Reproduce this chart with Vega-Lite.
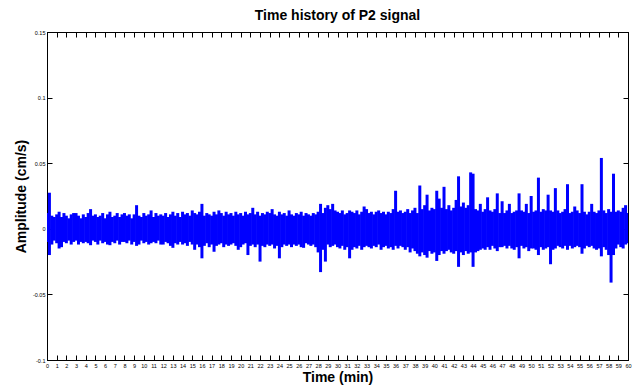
{
  "$schema": "https://vega.github.io/schema/vega-lite/v6.json",
  "autosize": {"type": "none"},
  "width": 581,
  "height": 328,
  "padding": {"left": 47, "top": 32, "right": 6, "bottom": 25},
  "background": "white",
  "config": {
    "font": "Liberation Sans",
    "view": {"stroke": "black", "strokeWidth": 1},
    "axis": {
      "domainColor": "black",
      "tickColor": "black",
      "labelColor": "black",
      "labelFont": "Liberation Sans",
      "titleFont": "Liberation Sans",
      "titleFontSize": 14,
      "titleFontWeight": "bold",
      "titleColor": "black",
      "grid": false
    }
  },
  "title": {"text": "Time history of P2 signal", "fontSize": 14, "fontWeight": "bold", "font": "Liberation Sans", "color": "black", "offset": 7},
  "data": {"values": [
{"t":0,"hi":0.012,"lo":-0.010},{"t":0.25,"hi":0.0275,"lo":-0.020},{"t":0.5,"hi":0.010,"lo":-0.012},{"t":0.75,"hi":0.009,"lo":-0.009},
{"t":1,"hi":0.011,"lo":-0.011},{"t":1.25,"hi":0.013,"lo":-0.015},{"t":1.5,"hi":0.009,"lo":-0.014},{"t":1.75,"hi":0.012,"lo":-0.010},
{"t":2,"hi":0.010,"lo":-0.011},{"t":2.25,"hi":0.008,"lo":-0.009},{"t":2.5,"hi":0.011,"lo":-0.012},{"t":2.75,"hi":0.012,"lo":-0.010},
{"t":3,"hi":0.012,"lo":-0.009},{"t":3.25,"hi":0.010,"lo":-0.012},{"t":3.5,"hi":0.008,"lo":-0.010},{"t":3.75,"hi":0.011,"lo":-0.011},
{"t":4,"hi":0.009,"lo":-0.010},{"t":4.25,"hi":0.012,"lo":-0.011},{"t":4.5,"hi":0.015,"lo":-0.0125},{"t":4.75,"hi":0.010,"lo":-0.009},
{"t":5,"hi":0.011,"lo":-0.010},{"t":5.25,"hi":0.009,"lo":-0.012},{"t":5.5,"hi":0.010,"lo":-0.009},{"t":5.75,"hi":0.012,"lo":-0.011},
{"t":6,"hi":0.008,"lo":-0.010},{"t":6.25,"hi":0.011,"lo":-0.012},{"t":6.5,"hi":0.013,"lo":-0.0125},{"t":6.75,"hi":0.009,"lo":-0.010},
{"t":7,"hi":0.010,"lo":-0.011},{"t":7.25,"hi":0.012,"lo":-0.009},{"t":7.5,"hi":0.009,"lo":-0.012},{"t":7.75,"hi":0.011,"lo":-0.010},
{"t":8,"hi":0.012,"lo":-0.010},{"t":8.25,"hi":0.010,"lo":-0.011},{"t":8.5,"hi":0.011,"lo":-0.009},{"t":8.75,"hi":0.008,"lo":-0.012},
{"t":9,"hi":0.011,"lo":-0.010},{"t":9.25,"hi":0.018,"lo":-0.013},{"t":9.5,"hi":0.010,"lo":-0.012},{"t":9.75,"hi":0.009,"lo":-0.009},
{"t":10,"hi":0.012,"lo":-0.011},{"t":10.25,"hi":0.010,"lo":-0.010},{"t":10.5,"hi":0.011,"lo":-0.012},{"t":10.75,"hi":0.014,"lo":-0.011},
{"t":11,"hi":0.009,"lo":-0.010},{"t":11.25,"hi":0.012,"lo":-0.011},{"t":11.5,"hi":0.010,"lo":-0.009},{"t":11.75,"hi":0.011,"lo":-0.012},
{"t":12,"hi":0.010,"lo":-0.012},{"t":12.25,"hi":0.012,"lo":-0.010},{"t":12.5,"hi":0.009,"lo":-0.011},{"t":12.75,"hi":0.011,"lo":-0.013},
{"t":13,"hi":0.013,"lo":-0.0145},{"t":13.25,"hi":0.010,"lo":-0.011},{"t":13.5,"hi":0.012,"lo":-0.012},{"t":13.75,"hi":0.009,"lo":-0.010},
{"t":14,"hi":0.013,"lo":-0.012},{"t":14.25,"hi":0.011,"lo":-0.011},{"t":14.5,"hi":0.012,"lo":-0.013},{"t":14.75,"hi":0.010,"lo":-0.010},
{"t":15,"hi":0.014,"lo":-0.012},{"t":15.25,"hi":0.012,"lo":-0.016},{"t":15.5,"hi":0.011,"lo":-0.012},{"t":15.75,"hi":0.013,"lo":-0.014},
{"t":16,"hi":0.019,"lo":-0.0225},{"t":16.25,"hi":0.010,"lo":-0.013},{"t":16.5,"hi":0.012,"lo":-0.011},{"t":16.75,"hi":0.011,"lo":-0.014},
{"t":17,"hi":0.010,"lo":-0.012},{"t":17.25,"hi":0.013,"lo":-0.0175},{"t":17.5,"hi":0.011,"lo":-0.013},{"t":17.75,"hi":0.014,"lo":-0.012},
{"t":18,"hi":0.012,"lo":-0.011},{"t":18.25,"hi":0.010,"lo":-0.014},{"t":18.5,"hi":0.013,"lo":-0.012},{"t":18.75,"hi":0.011,"lo":-0.013},
{"t":19,"hi":0.012,"lo":-0.012},{"t":19.25,"hi":0.010,"lo":-0.011},{"t":19.5,"hi":0.013,"lo":-0.013},{"t":19.75,"hi":0.011,"lo":-0.016},
{"t":20,"hi":0.012,"lo":-0.014},{"t":20.25,"hi":0.010,"lo":-0.012},{"t":20.5,"hi":0.013,"lo":-0.011},{"t":20.75,"hi":0.011,"lo":-0.020},
{"t":21,"hi":0.012,"lo":-0.013},{"t":21.25,"hi":0.016,"lo":-0.012},{"t":21.5,"hi":0.011,"lo":-0.014},{"t":21.75,"hi":0.013,"lo":-0.012},
{"t":22,"hi":0.010,"lo":-0.025},{"t":22.25,"hi":0.012,"lo":-0.013},{"t":22.5,"hi":0.011,"lo":-0.014},{"t":22.75,"hi":0.013,"lo":-0.012},
{"t":23,"hi":0.012,"lo":-0.013},{"t":23.25,"hi":0.015,"lo":-0.012},{"t":23.5,"hi":0.011,"lo":-0.015},{"t":23.75,"hi":0.010,"lo":-0.013},
{"t":24,"hi":0.013,"lo":-0.0225},{"t":24.25,"hi":0.011,"lo":-0.014},{"t":24.5,"hi":0.012,"lo":-0.012},{"t":24.75,"hi":0.010,"lo":-0.013},
{"t":25,"hi":0.014,"lo":-0.012},{"t":25.25,"hi":0.011,"lo":-0.014},{"t":25.5,"hi":0.010,"lo":-0.012},{"t":25.75,"hi":0.012,"lo":-0.013},
{"t":26,"hi":0.011,"lo":-0.012},{"t":26.25,"hi":0.013,"lo":-0.014},{"t":26.5,"hi":0.010,"lo":-0.0145},{"t":26.75,"hi":0.012,"lo":-0.011},
{"t":27,"hi":0.011,"lo":-0.012},{"t":27.25,"hi":0.010,"lo":-0.013},{"t":27.5,"hi":0.012,"lo":-0.012},{"t":27.75,"hi":0.011,"lo":-0.014},
{"t":28,"hi":0.013,"lo":-0.018},{"t":28.25,"hi":0.019,"lo":-0.033},{"t":28.5,"hi":0.012,"lo":-0.016},{"t":28.75,"hi":0.016,"lo":-0.025},
{"t":29,"hi":0.018,"lo":-0.012},{"t":29.25,"hi":0.015,"lo":-0.014},{"t":29.5,"hi":0.019,"lo":-0.013},{"t":29.75,"hi":0.014,"lo":-0.012},
{"t":30,"hi":0.013,"lo":-0.014},{"t":30.25,"hi":0.012,"lo":-0.015},{"t":30.5,"hi":0.014,"lo":-0.013},{"t":30.75,"hi":0.011,"lo":-0.016},
{"t":31,"hi":0.012,"lo":-0.014},{"t":31.25,"hi":0.014,"lo":-0.0225},{"t":31.5,"hi":0.013,"lo":-0.016},{"t":31.75,"hi":0.012,"lo":-0.014},
{"t":32,"hi":0.014,"lo":-0.015},{"t":32.25,"hi":0.011,"lo":-0.013},{"t":32.5,"hi":0.013,"lo":-0.016},{"t":32.75,"hi":0.017,"lo":-0.014},
{"t":33,"hi":0.015,"lo":-0.013},{"t":33.25,"hi":0.012,"lo":-0.014},{"t":33.5,"hi":0.013,"lo":-0.015},{"t":33.75,"hi":0.011,"lo":-0.013},
{"t":34,"hi":0.013,"lo":-0.014},{"t":34.25,"hi":0.014,"lo":-0.012},{"t":34.5,"hi":0.012,"lo":-0.016},{"t":34.75,"hi":0.013,"lo":-0.014},
{"t":35,"hi":0.011,"lo":-0.013},{"t":35.25,"hi":0.013,"lo":-0.015},{"t":35.5,"hi":0.012,"lo":-0.014},{"t":35.75,"hi":0.015,"lo":-0.016},
{"t":36,"hi":0.029,"lo":-0.013},{"t":36.25,"hi":0.013,"lo":-0.015},{"t":36.5,"hi":0.014,"lo":-0.013},{"t":36.75,"hi":0.012,"lo":-0.014},
{"t":37,"hi":0.013,"lo":-0.016},{"t":37.25,"hi":0.015,"lo":-0.014},{"t":37.5,"hi":0.012,"lo":-0.018},{"t":37.75,"hi":0.014,"lo":-0.015},
{"t":38,"hi":0.016,"lo":-0.017},{"t":38.25,"hi":0.012,"lo":-0.019},{"t":38.5,"hi":0.033,"lo":-0.021},{"t":38.75,"hi":0.015,"lo":-0.018},
{"t":39,"hi":0.018,"lo":-0.020},{"t":39.25,"hi":0.026,"lo":-0.022},{"t":39.5,"hi":0.014,"lo":-0.017},{"t":39.75,"hi":0.016,"lo":-0.019},
{"t":40,"hi":0.015,"lo":-0.018},{"t":40.25,"hi":0.029,"lo":-0.0245},{"t":40.5,"hi":0.023,"lo":-0.020},{"t":40.75,"hi":0.016,"lo":-0.017},
{"t":41,"hi":0.032,"lo":-0.019},{"t":41.25,"hi":0.015,"lo":-0.017},{"t":41.5,"hi":0.018,"lo":-0.016},{"t":41.75,"hi":0.014,"lo":-0.018},
{"t":42,"hi":0.016,"lo":-0.019},{"t":42.25,"hi":0.022,"lo":-0.017},{"t":42.5,"hi":0.040,"lo":-0.029},{"t":42.75,"hi":0.017,"lo":-0.018},
{"t":43,"hi":0.020,"lo":-0.020},{"t":43.25,"hi":0.016,"lo":-0.017},{"t":43.5,"hi":0.018,"lo":-0.019},{"t":43.75,"hi":0.043,"lo":-0.018},
{"t":44,"hi":0.042,"lo":-0.029},{"t":44.25,"hi":0.015,"lo":-0.018},{"t":44.5,"hi":0.014,"lo":-0.017},{"t":44.75,"hi":0.019,"lo":-0.016},
{"t":45,"hi":0.013,"lo":-0.015},{"t":45.25,"hi":0.015,"lo":-0.016},{"t":45.5,"hi":0.024,"lo":-0.014},{"t":45.75,"hi":0.014,"lo":-0.016},
{"t":46,"hi":0.013,"lo":-0.013},{"t":46.25,"hi":0.015,"lo":-0.015},{"t":46.5,"hi":0.027,"lo":-0.017},{"t":46.75,"hi":0.012,"lo":-0.014},
{"t":47,"hi":0.021,"lo":-0.014},{"t":47.25,"hi":0.012,"lo":-0.013},{"t":47.5,"hi":0.014,"lo":-0.015},{"t":47.75,"hi":0.019,"lo":-0.013},
{"t":48,"hi":0.012,"lo":-0.015},{"t":48.25,"hi":0.013,"lo":-0.016},{"t":48.5,"hi":0.014,"lo":-0.014},{"t":48.75,"hi":0.027,"lo":-0.0225},
{"t":49,"hi":0.014,"lo":-0.013},{"t":49.25,"hi":0.013,"lo":-0.015},{"t":49.5,"hi":0.019,"lo":-0.014},{"t":49.75,"hi":0.012,"lo":-0.017},
{"t":50,"hi":0.025,"lo":-0.015},{"t":50.25,"hi":0.013,"lo":-0.015},{"t":50.5,"hi":0.014,"lo":-0.016},{"t":50.75,"hi":0.039,"lo":-0.020},
{"t":51,"hi":0.013,"lo":-0.014},{"t":51.25,"hi":0.015,"lo":-0.016},{"t":51.5,"hi":0.014,"lo":-0.015},{"t":51.75,"hi":0.026,"lo":-0.014},
{"t":52,"hi":0.014,"lo":-0.027},{"t":52.25,"hi":0.013,"lo":-0.016},{"t":52.5,"hi":0.031,"lo":-0.015},{"t":52.75,"hi":0.014,"lo":-0.013},
{"t":53,"hi":0.012,"lo":-0.014},{"t":53.25,"hi":0.013,"lo":-0.015},{"t":53.5,"hi":0.015,"lo":-0.013},{"t":53.75,"hi":0.034,"lo":-0.016},
{"t":54,"hi":0.012,"lo":-0.013},{"t":54.25,"hi":0.013,"lo":-0.015},{"t":54.5,"hi":0.017,"lo":-0.014},{"t":54.75,"hi":0.014,"lo":-0.013},
{"t":55,"hi":0.012,"lo":-0.014},{"t":55.25,"hi":0.034,"lo":-0.019},{"t":55.5,"hi":0.013,"lo":-0.015},{"t":55.75,"hi":0.011,"lo":-0.013},
{"t":56,"hi":0.013,"lo":-0.014},{"t":56.25,"hi":0.019,"lo":-0.013},{"t":56.5,"hi":0.013,"lo":-0.015},{"t":56.75,"hi":0.012,"lo":-0.016},
{"t":57,"hi":0.014,"lo":-0.015},{"t":57.25,"hi":0.054,"lo":-0.021},{"t":57.5,"hi":0.014,"lo":-0.014},{"t":57.75,"hi":0.012,"lo":-0.016},
{"t":58,"hi":0.015,"lo":-0.020},{"t":58.25,"hi":0.013,"lo":-0.041},{"t":58.5,"hi":0.042,"lo":-0.020},{"t":58.75,"hi":0.013,"lo":-0.015},
{"t":59,"hi":0.014,"lo":-0.012},{"t":59.25,"hi":0.013,"lo":-0.014},{"t":59.5,"hi":0.016,"lo":-0.015},{"t":59.75,"hi":0.018,"lo":-0.012},
{"t":60,"hi":0.012,"lo":-0.011}
  ]},
  "layer": [
    {
      "mark": {"type": "rule", "color": "#0000ff", "strokeWidth": 3, "clip": true},
      "encoding": {
        "x": {"field": "t", "type": "quantitative", "scale": {"domain": [0, 60], "nice": false, "zero": false},
              "axis": {"orient": "bottom", "title": "Time (min)", "values": [0,1,2,3,4,5,6,7,8,9,10,11,12,13,14,15,16,17,18,19,20,21,22,23,24,25,26,27,28,29,30,31,32,33,34,35,36,37,38,39,40,41,42,43,44,45,46,47,48,49,50,51,52,53,54,55,56,57,58,59,60],
                       "tickSize": -5, "labelPadding": 8, "labelFontSize": 5.5, "labelFlush": false, "labelOverlap": false, "titlePadding": 2}},
        "y": {"field": "lo", "type": "quantitative", "scale": {"domain": [-0.1, 0.15], "nice": false, "zero": false},
              "axis": {"orient": "left", "title": "Amplitude (cm/s)", "values": [-0.1, -0.05, 0, 0.05, 0.1, 0.15],
                       "labelExpr": "'' + datum.value", "tickSize": -5, "labelPadding": 7, "labelFontSize": 5.5, "labelFlush": false, "titlePadding": 4}},
        "y2": {"field": "hi"}
      }
    },
    {
      "mark": {"type": "rule", "opacity": 0},
      "encoding": {
        "x": {"field": "t", "type": "quantitative",
              "axis": {"orient": "top", "title": null, "labels": false, "values": [0,1,2,3,4,5,6,7,8,9,10,11,12,13,14,15,16,17,18,19,20,21,22,23,24,25,26,27,28,29,30,31,32,33,34,35,36,37,38,39,40,41,42,43,44,45,46,47,48,49,50,51,52,53,54,55,56,57,58,59,60], "tickSize": -5}},
        "y": {"field": "lo", "type": "quantitative",
              "axis": {"orient": "right", "title": null, "labels": false, "values": [-0.1, -0.05, 0, 0.05, 0.1, 0.15], "tickSize": -5}}
      }
    }
  ],
  "resolve": {"axis": {"x": "independent", "y": "independent"}}
}
